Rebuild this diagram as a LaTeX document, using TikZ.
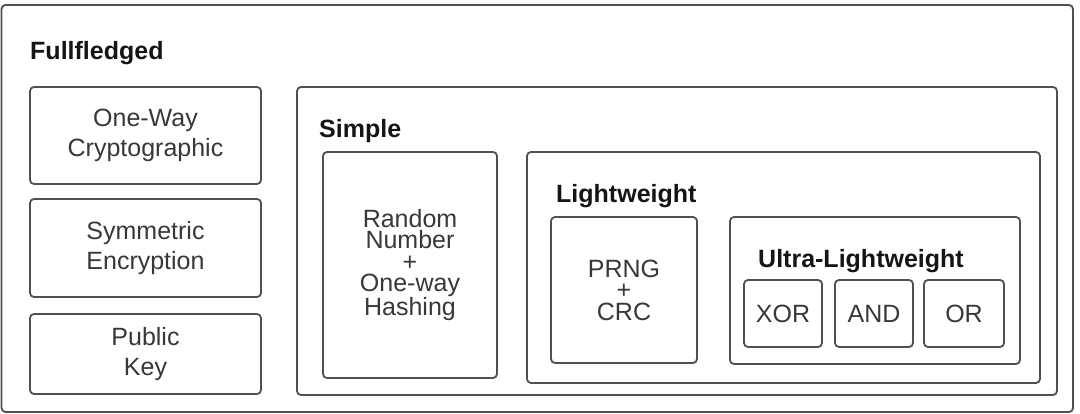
\documentclass[tikz,border=0pt]{standalone}
\usepackage{fontspec}
\setmainfont{Liberation Sans}
\definecolor{edge}{HTML}{505050}
\definecolor{txt}{HTML}{383838}
\definecolor{lbl}{HTML}{151515}
\begin{document}
\begin{tikzpicture}[x=1pt,y=-1pt,
  box/.style={draw=edge, line width=1.8pt, rounded corners=4pt, fill=white, inner sep=0pt, outer sep=0pt, align=center, text=txt, font=\fontsize{25}{30}\selectfont},
  tight/.style={font=\fontsize{25}{21.5}\selectfont},
  grp/.style={font=\bfseries\fontsize{25}{30}\selectfont, text=lbl, anchor=base west, inner sep=0pt}]
\useasboundingbox (0,0) rectangle (1080,414);
\fill[white] (0,0) rectangle (1080,414);
\node[box, minimum width=1071.5pt, minimum height=407pt] (outer) at (537.25,208.5) {};
\node[grp] (lfull) at (30,60) {Fullfledged};
\node[box, minimum width=231pt, minimum height=97pt] (oneway) at (145.5,135.5) {One-Way\\Cryptographic};
\node[box, minimum width=231pt, minimum height=98pt] (sym) at (145.5,248) {Symmetric\\Encryption};
\node[box, minimum width=231pt, minimum height=80pt] (pub) at (145.5,354) {Public\\Key};
\node[box, minimum width=760pt, minimum height=308pt] (simple) at (677,241) {};
\node[grp] (lsimple) at (319,138) {Simple};
\node[box, tight, minimum width=174pt, minimum height=226pt] (rand) at (410,265) {Random\\Number\\+\\One-way\\Hashing};
\node[box, minimum width=513pt, minimum height=231pt] (light) at (783.5,267.5) {};
\node[grp] (llight) at (556,203) {Lightweight};
\node[box, tight, minimum width=146pt, minimum height=146pt] (prng) at (624,290) {PRNG\\+\\CRC};
\node[box, minimum width=290pt, minimum height=147pt] (ultra) at (875,290.5) {};
\node[grp] (lultra) at (758,268) {Ultra-Lightweight};
\node[box, minimum width=78pt, minimum height=67pt] (xor) at (783,313.5) {XOR};
\node[box, minimum width=78pt, minimum height=67pt] (and) at (874,313.5) {AND};
\node[box, minimum width=80pt, minimum height=67pt] (or) at (964,313.5) {OR};
\end{tikzpicture}
\end{document}
